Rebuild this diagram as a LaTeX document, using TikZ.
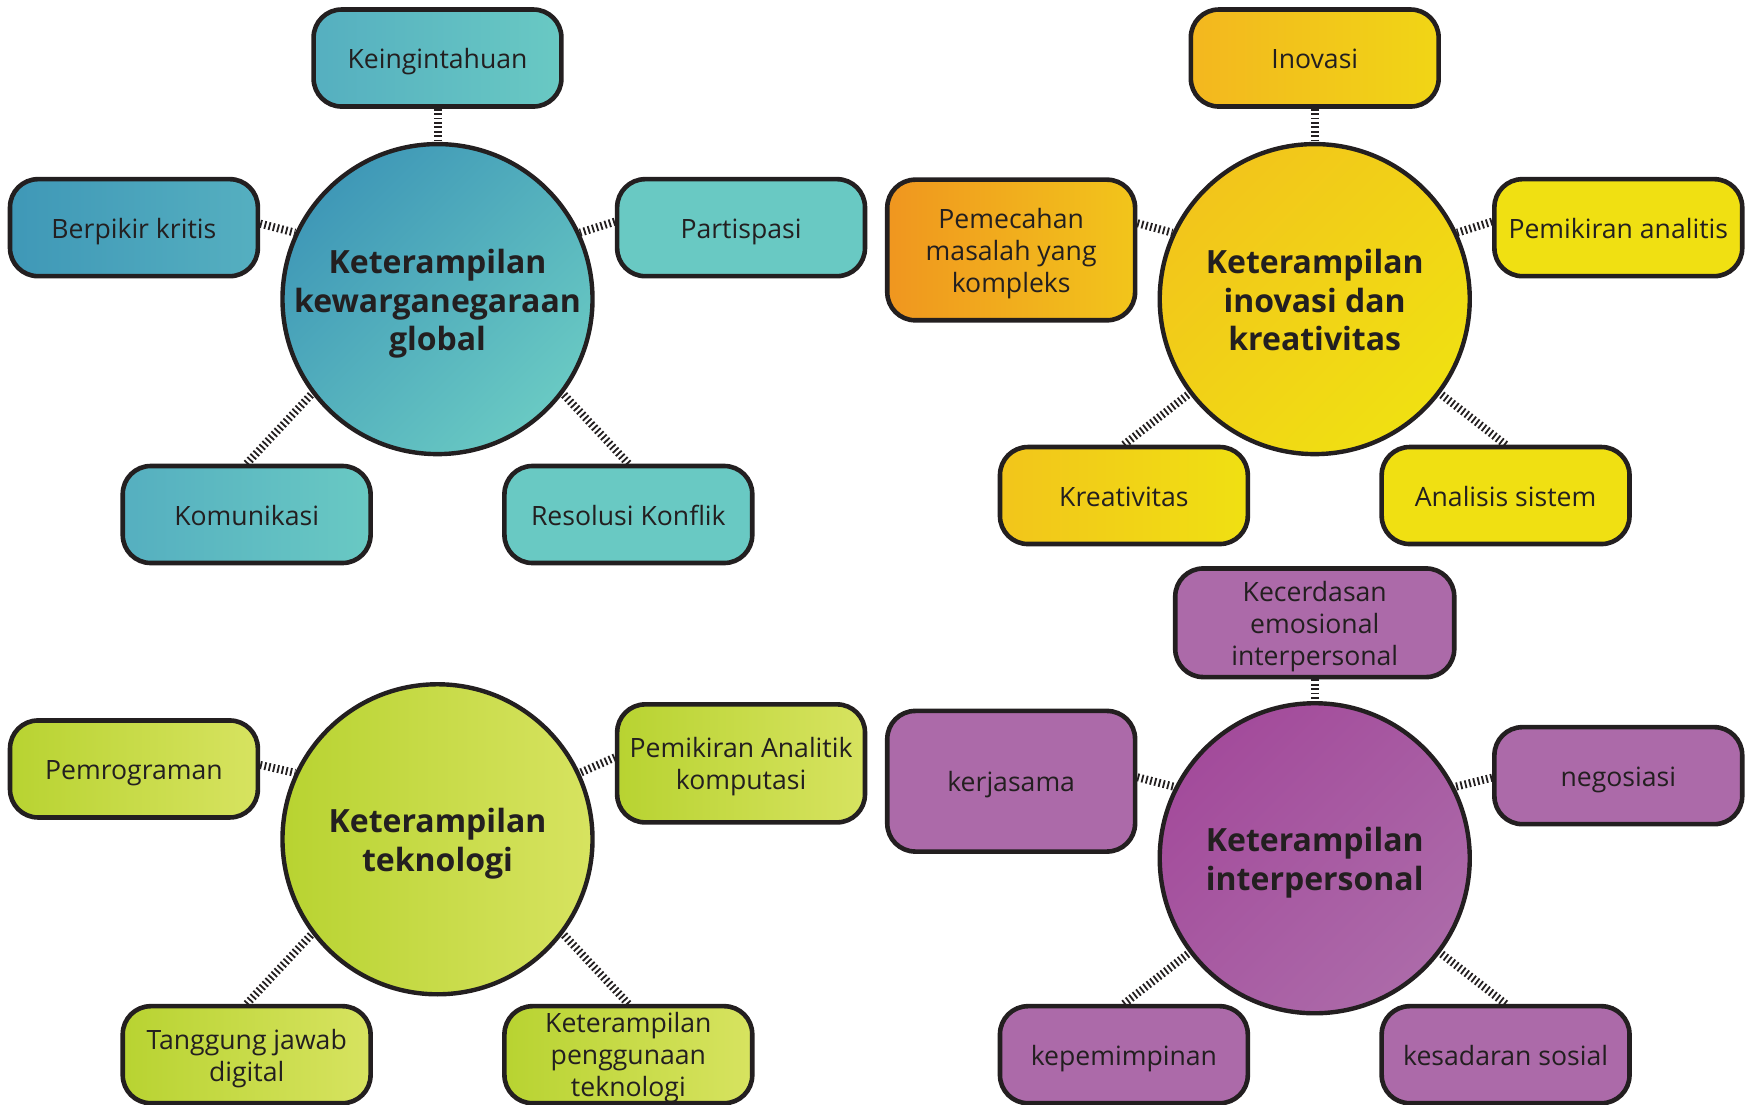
\documentclass[tikz,border=0pt]{standalone}
\usepackage{fontspec}
\setmainfont{Open Sans}
\usetikzlibrary{backgrounds}
\definecolor{ink}{HTML}{231F20}
% teal
\definecolor{tD}{HTML}{3F98B7}
\definecolor{tM}{HTML}{55AFC0}
\definecolor{tL}{HTML}{69C9C3}
% yellow / orange
\definecolor{yO}{HTML}{F0961F}
\definecolor{yA}{HTML}{F3B71F}
\definecolor{yB}{HTML}{F2C51B}
\definecolor{yL}{HTML}{F0E012}
% green
\definecolor{gD}{HTML}{B8D331}
\definecolor{gL}{HTML}{D7E360}
% purple
\definecolor{pD}{HTML}{A34B9B}
\definecolor{pL}{HTML}{AC6AA9}
\newcommand\leafT{\rule{0pt}{14.5pt}}
\newcommand\leafB{\rule[-4pt]{0pt}{4pt}}
\newcommand\hubT{\rule{0pt}{17pt}}
\newcommand\hubB{\rule[-4pt]{0pt}{4pt}}
\tikzset{
  hub/.style={circle, draw=ink, line width=2.2pt, minimum size=155pt, inner sep=0pt,
    align=center, text=ink, font=\fontsize{16}{19.3}\selectfont\bfseries},
  leaf/.style={rectangle, rounded corners=14pt, draw=ink, line width=2.3pt,
    minimum width=123.9pt, minimum height=48.5pt, inner sep=2pt, align=center,
    text=ink, font=\fontsize{13.3}{15.9}\selectfont},
  grad/.style 2 args={shading=axis, top color=#1, bottom color=#2, shading angle=45},
  hgrad/.style 2 args={shading=axis, left color=#1, right color=#2},
  hatch/.style={draw=ink, line width=4pt, dash pattern=on 0.9pt off 1.3pt},
}
\begin{document}
\begin{tikzpicture}[x=0.558pt, y=-0.558pt]
\useasboundingbox (0,0) rectangle (1568,990);

% ---------- teal group ----------
\node[hub, grad={tD}{tL}] (c1) at (392,268) {\hubT Keterampilan\\kewarganegaraan\\global\hubB};
\node[leaf, hgrad={tM}{tL}] (kein) at (392,52) {\leafT Keingintahuan\leafB};
\node[leaf, hgrad={tD}{tM}] (berp) at (120,204) {\leafT Berpikir kritis\leafB};
\node[leaf, fill=tL] (part) at (664,204) {\leafT Partispasi\leafB};
\node[leaf, hgrad={tM}{tL}] (kom) at (221,461) {\leafT Komunikasi\leafB};
\node[leaf, fill=tL] (res) at (563,461) {\leafT Resolusi Konflik\leafB};

% ---------- yellow group ----------
\node[hub, grad={yB}{yL}] (c2) at (1178,268) {\hubT Keterampilan\\inovasi dan\\kreativitas\hubB};
\node[leaf, hgrad={yA}{yL!60!yB}] (inov) at (1178,52) {\leafT Inovasi\leafB};
\node[leaf, minimum height=70.3pt, hgrad={yO}{yB}] (pem) at (906,224) {\leafT Pemecahan\\masalah yang\\kompleks\leafB};
\node[leaf, fill=yL] (pan) at (1450,204) {\leafT Pemikiran analitis\leafB};
\node[leaf, hgrad={yB}{yL}] (kre) at (1007,444) {\leafT Kreativitas\leafB};
\node[leaf, fill=yL] (ana) at (1349,444) {\leafT Analisis sistem\leafB};

% ---------- green group ----------
\node[hub, hgrad={gD}{gL}] (c3) at (392,752) {\hubT Keterampilan\\teknologi\hubB};
\node[leaf, hgrad={gD}{gL}] (pro) at (120,689) {\leafT Pemrograman\leafB};
\node[leaf, minimum height=59pt, hgrad={gD}{gL}] (pak) at (664,684) {\leafT Pemikiran Analitik\\komputasi\leafB};
\node[leaf, hgrad={gD}{gL}] (tan) at (221,945) {\leafT Tanggung jawab\\digital\leafB};
\node[leaf, inner ysep=0pt, hgrad={gD}{gL}] (kpt) at (563,945) {\rule{0pt}{13.2pt}Keterampilan\\penggunaan\\teknologi};

% ---------- purple group ----------
\node[hub, grad={pD}{pL}] (c4) at (1178,769) {\hubT Keterampilan\\interpersonal\hubB};
\node[leaf, minimum width=139.5pt, minimum height=54pt, fill=pL] (kec) at (1178,558) {\leafT Kecerdasan\\emosional\\interpersonal\leafB};
\node[leaf, minimum height=70.3pt, fill=pL] (ker) at (906,700) {\leafT kerjasama\leafB};
\node[leaf, fill=pL] (neg) at (1450,695) {\leafT negosiasi\leafB};
\node[leaf, fill=pL] (kep) at (1007,945) {\leafT kepemimpinan\leafB};
\node[leaf, fill=pL] (kes) at (1349,945) {\leafT kesadaran sosial\leafB};

% ---------- connectors ----------
\begin{scope}[on background layer]
\draw[hatch] (kein.south) -- (c1.north);
\draw[hatch] ([yshift=2pt]berp.east) -- (c1.155);
\draw[hatch] ([yshift=3pt]part.west) -- (c1.25);
\draw[hatch] (kom.north) -- (c1.217);
\draw[hatch] (res.north) -- (c1.323);

\draw[hatch] (inov.south) -- (c2.north);
\draw[hatch] ([yshift=13.4pt]pem.east) -- (c2.155);
\draw[hatch] ([yshift=3pt]pan.west) -- (c2.25);
\draw[hatch] (kre.north) -- (c2.217);
\draw[hatch] (ana.north) -- (c2.323);

\draw[hatch] ([yshift=2pt]pro.east) -- (c3.155);
\draw[hatch] ([yshift=3pt]pak.west) -- (c3.25);
\draw[hatch] (tan.north) -- (c3.217);
\draw[hatch] (kpt.north) -- (c3.323);

\draw[hatch] (kec.south) -- (c4.north);
\draw[hatch] ([yshift=2pt]ker.east) -- (c4.153);
\draw[hatch] ([yshift=-1pt]neg.west) -- (c4.27);
\draw[hatch] (kep.north) -- (c4.217);
\draw[hatch] (kes.north) -- (c4.323);
\end{scope}
\end{tikzpicture}
\end{document}
